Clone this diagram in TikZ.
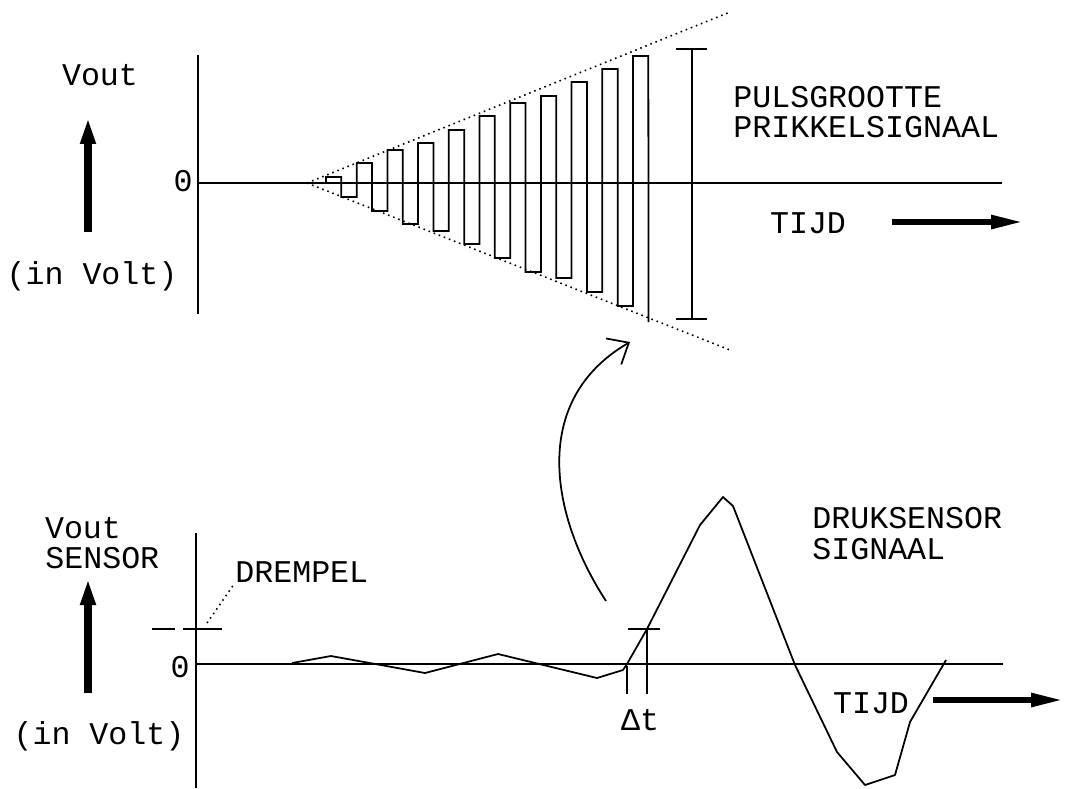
\documentclass[tikz,border=0pt]{standalone}
\usepackage{fontspec}
\newfontfamily\courfont{Liberation Mono}
\usetikzlibrary{arrows.meta}

\begin{document}
\begin{tikzpicture}[
        x=0.02cm, y=-0.02cm,
        axis/.style={line width=0.9pt},
        pulse/.style={line width=1pt, line join=miter},
        cone/.style={dash pattern=on 0.9pt off 2.2pt, line width=0.9pt},
        bigarrow/.style={
            -{Triangle[length=5.4mm,width=2.8mm]},
            line width=4pt
        },
        timearrow/.style={
            -{Triangle[length=6.4mm,width=2.6mm]},
            line width=3.2pt
        },
        curvearrow/.style={
            -{Straight Barb[length=3.5mm,width=6mm]},
            line width=1pt
        },
        lbl/.style={font=\courfont\fontsize{18}{21}\selectfont, inner sep=0pt},
        signal/.style={line width=1pt, line join=round}
    ]
    \useasboundingbox (0,0) rectangle (1070,788);

    % top graph: pulse size of the stimulus signal
    \coordinate (apex) at (307,183);
    \draw[axis] (198,55) -- (198,314);
    \draw[axis] (198,183) -- (1002,183);
    \draw[line width=1.6pt] (858,183) -- (885,183);
    \draw[cone] (apex) -- (730,12);
    \draw[cone] (apex) -- (730,350);
    \draw[pulse] (326,183)
        \foreach \lv [count=\k from 0] in {177,197,163,211,150,224,143,231,130,244,116,258,103,272,96,278,82,292,69,306,56} {
            -- (326+15.35*\k,\lv) -- (341.35+15.35*\k,\lv)
        } -- (648.4,322);
    \draw[axis] (692,49) -- (692,319);
    \draw[axis] (676,49) -- (707,49);
    \draw[axis] (676,319) -- (707,319);

    \node[lbl] (vouttop) at (100,75) {Vout};
    \node[lbl] (zerotop) at (183,181) {0};
    \node[lbl] (volttop) at (92,276) {(in Volt)};
    \coordinate (uptopfrom) at (88,232);
    \coordinate (uptopto) at (88,117);
    \draw[bigarrow] (uptopfrom) -- (uptopto);
    \node[lbl, anchor=west] (pulsgrootte) at (733,97) {PULSGROOTTE};
    \node[lbl, anchor=west] (prikkel) at (733,127) {PRIKKELSIGNAAL};
    \node[lbl] (tijdtop) at (808,223) {TIJD};
    \coordinate (tijdtopto) at (1023,222);
    \draw[timearrow] (892,222) -- (tijdtopto);

    % bottom graph: pressure sensor signal
    \draw[axis] (196,533) -- (196,788);
    \draw[axis] (196,664) -- (1003,664);
    \draw[axis] (152,629) -- (175,629);
    \draw[axis] (183,629) -- (222,629);
    \node[lbl, anchor=west] (drempel) at (235,572) {DREMPEL};
    \draw[cone] (207,623) -- (drempel.south west);

    \draw[signal] (292,663) -- (331,656) -- (425,673) -- (498,654) -- (597,678)
        -- (623,670) -- (627,664) -- (647,629) -- (700,525) -- (723,497)
        -- (733,506) -- (795,665) -- (837,752) -- (865,785) -- (895,775)
        -- (910,722) -- (946,660);
    \draw[axis] (627,666) -- (627,694);
    \draw[axis] (647,629) -- (647,694);
    \draw[axis] (628,629) -- (660,629);
    \node[lbl] (deltat) at (640,720) {Δt};

    \node[lbl] (voutbot) at (83,528) {Vout};
    \node[lbl, anchor=west] (sensor) at (45,558) {SENSOR};
    \node[lbl] (zerobot) at (180,667) {0};
    \node[lbl] (voltbot) at (99,736) {(in Volt)};
    \coordinate (upbotfrom) at (88,693);
    \coordinate (upbotto) at (88,578);
    \draw[bigarrow] (upbotfrom) -- (upbotto);
    \node[lbl, anchor=west] (druksensor) at (812,518) {DRUKSENSOR};
    \node[lbl, anchor=west] (signaal) at (812,549) {SIGNAAL};
    \node[lbl] (tijdbot) at (871,703) {TIJD};
    \coordinate (tijdbotto) at (1063,700);
    \draw[timearrow] (933,700) -- (tijdbotto);

    % link from threshold crossing to pulse train
    \coordinate (crossing) at (606,601);
    \coordinate (train) at (630,342);
    \draw[curvearrow] (crossing) .. controls (550,515) and (530,400) .. (train);
\end{tikzpicture}
\end{document}
